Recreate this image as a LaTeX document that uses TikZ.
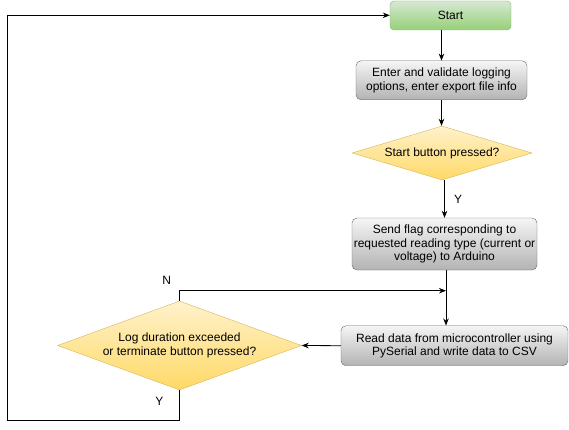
\documentclass[tikz,border=0pt]{standalone}
\usepackage{fontspec}
\setmainfont{Liberation Sans}
\usetikzlibrary{shapes.geometric,arrows.meta}

\definecolor{startfill}{HTML}{D5E8D4}
\definecolor{startgrad}{HTML}{97D077}
\definecolor{startline}{HTML}{82B366}
\definecolor{boxfill}{HTML}{F5F5F5}
\definecolor{boxgrad}{HTML}{B3B3B3}
\definecolor{boxline}{HTML}{666666}
\definecolor{askfill}{HTML}{FFF2CC}
\definecolor{askgrad}{HTML}{FFD966}
\definecolor{askline}{HTML}{D6B656}

\tikzset{
	txt/.style={font=\fontsize{12}{13.5}\selectfont, align=center},
	startbox/.style={txt, draw=startline, rounded corners=4pt, top color=startfill, bottom color=startgrad, inner sep=0pt},
	procbox/.style={txt, draw=boxline, rounded corners=5pt, top color=boxfill, bottom color=boxgrad, inner sep=0pt},
	askbox/.style={txt, diamond, draw=askline, top color=askfill, bottom color=askgrad, inner sep=0pt},
	arr/.style={-{Stealth[length=7pt,width=5.5pt]}, line width=0.8pt},
	lbl/.style={font=\fontsize{12}{13.5}\selectfont}
}

\begin{document}
\begin{tikzpicture}[x=1pt,y=-1pt]
	\useasboundingbox (0,0) rectangle (569,430);

	\node[startbox, minimum width=121pt, minimum height=29pt] (start) at (450.5,15.5) {Start};
	\node[procbox, minimum width=171pt, minimum height=39pt] (enter) at (441.5,80.3) {Enter and validate logging\\options, enter export file info};
	\node[askbox, shape aspect=3.33, minimum width=180pt, minimum height=54pt] (startq) at (442,153) {Start button pressed?};
	\node[procbox, minimum width=185pt, minimum height=52pt] (flag) at (444.5,244) {Send flag corresponding to\\requested reading type (current or\\voltage) to Arduino};
	\node[procbox, minimum width=227pt, minimum height=40pt] (read) at (454.5,345.7) {Read data from microcontroller using\\PySerial and write data to CSV};
	\node[askbox, shape aspect=2.74, minimum width=244pt, minimum height=89pt] (logq) at (179.5,345.5) {Log duration exceeded\\or terminate button pressed?};

	\coordinate (join) at (446,290.7);
	\coordinate (loopa) at (179.5,420);
	\coordinate (loopb) at (7.3,420);
	\coordinate (loopc) at (7.3,15.3);

	\draw[arr] (start.south -| enter.north) -- (enter.north);
	\draw[arr] (enter.south) -- (enter.south |- startq.north);
	\draw[arr] (startq.south -| flag.south) -- node[lbl, right, xshift=6pt] {Y} (flag.north);
	\draw[line width=0.8pt] (flag.south -| join) -- (join);
	\draw[arr] (join) -- (join |- read.north);
	\draw[arr] (read.west) -- (logq.east);
	\draw[arr] (logq.north) -- (logq.north |- join) -- (join);
	\draw[arr] (logq.south) -- (loopa) -- (loopb) -- (loopc) -- (start.west |- loopc);

	\node[lbl] (nlabel) at (166.7,280) {N};
	\node[lbl] (ylabel) at (159.3,401.7) {Y};
\end{tikzpicture}
\end{document}
